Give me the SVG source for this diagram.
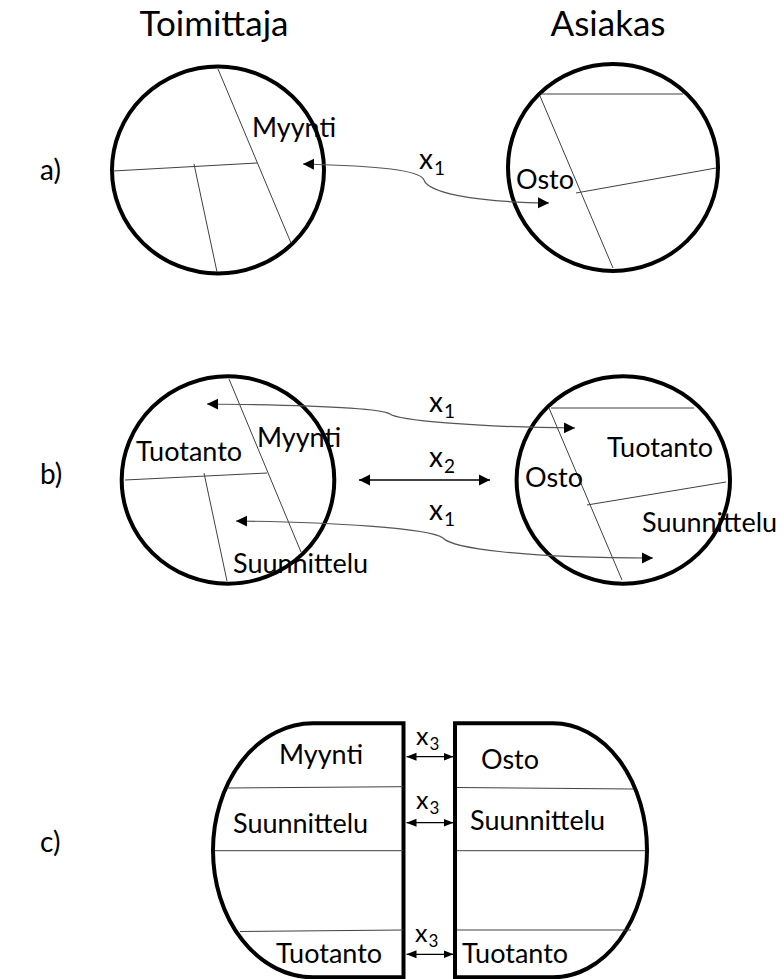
<svg xmlns="http://www.w3.org/2000/svg" width="784" height="979" viewBox="0 0 784 979">
<defs>
<style>
text{font-family:Lato,"Open Sans","Liberation Sans",sans-serif;fill:#000}
.t{font-size:35px}
.lab{font-size:28px}
.n{font-size:27px}
.x{font-size:28px}
.xs{font-size:19px}
.x3{font-size:25px}
.x3s{font-size:17px}
.outline{fill:none;stroke:#000;stroke-width:4}
.div{fill:none;stroke:#404040;stroke-width:1}
.conn{fill:none;stroke:#555;stroke-width:1.2}
.dbl{fill:none;stroke:#000;stroke-width:1.3}
</style>
<marker id="ah" markerUnits="userSpaceOnUse" markerWidth="12" markerHeight="12" refX="11" refY="5.5" orient="auto-start-reverse" viewBox="0 0 12 11">
<path d="M0,0 L11,5.5 L0,11 Z" fill="#000"/>
</marker>
<marker id="ahs" markerUnits="userSpaceOnUse" markerWidth="10" markerHeight="9" refX="10" refY="4" orient="auto-start-reverse" viewBox="0 0 10 8">
<path d="M0,0 L10,4 L0,8 Z" fill="#000"/>
</marker>
</defs>
<rect width="784" height="979" fill="#fff"/>

<g id="titles">
<text class="t" x="214" y="36" text-anchor="middle">Toimittaja</text>
<text class="t" x="608" y="36" text-anchor="middle">Asiakas</text>
</g>
<g id="labels">
<text class="lab" x="40" y="180">a)</text>
<text class="lab" x="40" y="484">b)</text>
<text class="lab" x="40" y="852">c)</text>
</g>

<g id="a-supplier">
<ellipse class="outline" cx="218" cy="170" rx="106" ry="103.5"/>
<line class="div" x1="218" y1="69" x2="291" y2="243"/>
<line class="div" x1="113" y1="171" x2="257" y2="163"/>
<line class="div" x1="194" y1="164" x2="217" y2="272"/>
<text class="n" x="252" y="137">Myynti</text>
</g>
<g id="a-customer">
<ellipse class="outline" cx="613" cy="167.5" rx="105" ry="103.5"/>
<line class="div" x1="541" y1="94" x2="683" y2="94"/>
<line class="div" x1="540" y1="96" x2="613" y2="268"/>
<line class="div" x1="576" y1="193" x2="716" y2="168"/>
<text class="n" x="516" y="189">Osto</text>
</g>

<g id="b-supplier">
<ellipse class="outline" cx="228" cy="480" rx="106.3" ry="103.7"/>
<line class="div" x1="229" y1="379" x2="301" y2="552"/>
<line class="div" x1="125" y1="480" x2="267" y2="473"/>
<line class="div" x1="204" y1="473" x2="227" y2="581"/>
<text class="n" x="136" y="461">Tuotanto</text>
<text class="n" x="257" y="447">Myynti</text>
<text class="n" x="233" y="573">Suunnittelu</text>
</g>
<g id="b-customer">
<ellipse class="outline" cx="623.3" cy="480" rx="106.7" ry="103.7"/>
<line class="div" x1="551" y1="408" x2="694" y2="408"/>
<line class="div" x1="549" y1="408" x2="622" y2="580"/>
<line class="div" x1="587" y1="505" x2="726" y2="482"/>
<text class="n" x="607" y="457">Tuotanto</text>
<text class="n" x="525" y="487">Osto</text>
<text class="n" x="642" y="532">Suunnittelu</text>
</g>

<g id="c-supplier">
<path class="outline" d="M403.5,723.3 H313 A100,127 0 0 0 313,977.3 H403.5 Z"/>
<line class="div" x1="227" y1="788" x2="403" y2="786.7"/>
<line class="div" x1="215" y1="850.7" x2="403" y2="850.7"/>
<line class="div" x1="240" y1="931.5" x2="403" y2="930"/>
<text class="n" x="279" y="764">Myynti</text>
<text class="n" x="233" y="833">Suunnittelu</text>
<text class="n" x="276" y="963">Tuotanto</text>
</g>
<g id="c-customer">
<path class="outline" d="M455,723.3 H553 A94,127 0 0 1 553,977.3 H455 Z"/>
<line class="div" x1="457" y1="787.5" x2="633" y2="789"/>
<line class="div" x1="457" y1="850.7" x2="645" y2="850.7"/>
<line class="div" x1="457" y1="930" x2="631" y2="930"/>
<text class="n" x="481" y="769">Osto</text>
<text class="n" x="470" y="830">Suunnittelu</text>
<text class="n" x="462" y="963">Tuotanto</text>
</g>

<g id="connectors">
<path class="conn" d="M303,164 C380,166 420,170 424,180 C428,192 470,202 549,203" marker-start="url(#ah)" marker-end="url(#ah)"/>
<path class="conn" d="M207,404 C300,405 380,408 390,414 C398,420 470,427 575,428" marker-start="url(#ah)" marker-end="url(#ah)"/>
<path class="dbl" d="M359,480 H490" marker-start="url(#ah)" marker-end="url(#ah)"/>
<path class="conn" d="M236,521 C330,522 430,528 443,538 C452,548 520,558 653,558" marker-start="url(#ah)" marker-end="url(#ah)"/>
<path class="dbl" d="M406.5,756.7 H453.5" marker-start="url(#ahs)" marker-end="url(#ahs)"/>
<path class="dbl" d="M406.5,822.7 H453.5" marker-start="url(#ahs)" marker-end="url(#ahs)"/>
<path class="dbl" d="M406.5,954.3 H453.5" marker-start="url(#ahs)" marker-end="url(#ahs)"/>
</g>

<g id="connector-labels">
<text class="x" x="419" y="169">x<tspan class="xs" dx="1" dy="6">1</tspan></text>
<text class="x" x="429" y="412">x<tspan class="xs" dx="1" dy="6">1</tspan></text>
<text class="x" x="429" y="467">x<tspan class="xs" dx="1" dy="6">2</tspan></text>
<text class="x" x="429" y="520">x<tspan class="xs" dx="1" dy="6">1</tspan></text>
<text class="x3" x="416" y="745">x<tspan class="x3s" dx="1" dy="5">3</tspan></text>
<text class="x3" x="416" y="809">x<tspan class="x3s" dx="1" dy="5">3</tspan></text>
<text class="x3" x="415" y="942">x<tspan class="x3s" dx="1" dy="5">3</tspan></text>
</g>
</svg>
